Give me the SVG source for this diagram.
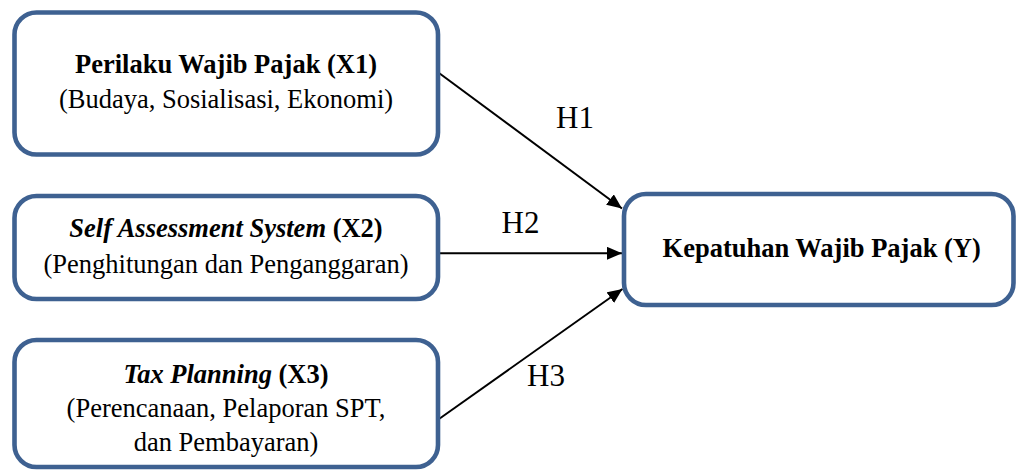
<svg xmlns="http://www.w3.org/2000/svg" width="1016" height="470" viewBox="0 0 1016 470">
<style>
.box{fill:#ffffff;stroke:#3E6191;stroke-width:4.6}
.t{font-family:"Liberation Serif","Times New Roman",serif;font-size:26.5px;fill:#000;text-anchor:middle}
.b{font-weight:bold}
.i{font-style:italic}
.h{font-family:"Liberation Serif","Times New Roman",serif;font-size:31px;fill:#000}
.conn{stroke:#000;stroke-width:2;fill:none;marker-end:url(#ah)}
</style>
<defs>
<marker id="ah" markerUnits="userSpaceOnUse" markerWidth="16" markerHeight="14" refX="15" refY="6.5" orient="auto">
<path d="M0,0 L15,6.5 L0,13 z" fill="#000"/>
</marker>
</defs>
<rect width="1016" height="470" fill="#ffffff"/>
<g id="connectors">
<line class="conn" x1="439" y1="73" x2="622" y2="208.5"/>
<line class="conn" x1="440" y1="253.3" x2="622" y2="253.3"/>
<line class="conn" x1="439" y1="419" x2="622.5" y2="289"/>
<text class="h" x="556" y="128.3">H1</text>
<text class="h" x="501.5" y="232.7">H2</text>
<text class="h" x="527" y="386">H3</text>
</g>
<g id="x1">
<rect class="box" x="14.5" y="12.5" width="423.5" height="142" rx="22" ry="22"/>
<text class="t b" x="226" y="72.7">Perilaku Wajib Pajak (X1)</text>
<text class="t" x="226" y="108.3">(Budaya, Sosialisasi, Ekonomi)</text>
</g>
<g id="x2">
<rect class="box" x="14.5" y="196" width="423.5" height="103" rx="22" ry="22"/>
<text class="t b" x="226" y="236.7"><tspan class="i">Self Assessment System</tspan> (X2)</text>
<text class="t" x="226" y="273.3">(Penghitungan dan Penganggaran)</text>
</g>
<g id="x3">
<rect class="box" x="14.5" y="340" width="423.5" height="127" rx="22" ry="22"/>
<text class="t b" x="226" y="383.3"><tspan class="i">Tax Planning</tspan> (X3)</text>
<text class="t" x="226" y="417.3">(Perencanaan, Pelaporan SPT,</text>
<text class="t" x="226" y="450.7">dan Pembayaran)</text>
</g>
<g id="y">
<rect class="box" x="624" y="194" width="389.5" height="111" rx="22" ry="22"/>
<text class="t b" x="821.7" y="257.3">Kepatuhan Wajib Pajak (Y)</text>
</g>
</svg>
